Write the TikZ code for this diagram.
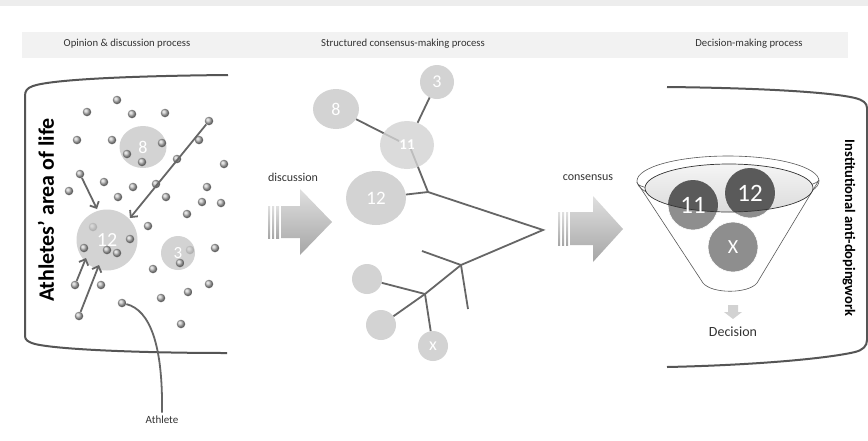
\documentclass[tikz,border=0pt]{standalone}
\usepackage{fontspec}
\setmainfont{Carlito}
\usetikzlibrary{arrows.meta,shapes.geometric}
\definecolor{bub}{HTML}{D3D3D3}
\definecolor{ln}{HTML}{666666}
\definecolor{txt}{HTML}{333333}
\definecolor{dk}{HTML}{5A5A5A}
\definecolor{md}{HTML}{8E8E8E}
\definecolor{frame}{HTML}{555555}
\begin{document}
\begin{tikzpicture}[x=1pt,y=-1pt,
  dot/.style={circle,inner sep=0pt,minimum size=8.5pt,shading=ball,ball color=gray!55},
  bubble/.style={circle,inner sep=0pt,fill=bub,text=white,font=\fontsize{18}{18}\selectfont},
  ebubble/.style={ellipse,inner sep=0pt,fill=bub,text=white,font=\fontsize{18}{18}\selectfont},
  conn/.style={draw=ln,line width=1.8pt},
  arr/.style={draw=ln,line width=1.8pt,-{Straight Barb[length=5pt,width=10pt]}},
  brack/.style={draw=frame,line width=2pt},
  head/.style={font=\fontsize{10.7}{12}\selectfont,text=txt},
  lbl/.style={font=\fontsize{12}{14}\selectfont,text=txt},
  fcirc/.style={circle,inner sep=0pt,minimum size=50pt,fill=md,draw=white,line width=0.6pt},
  blockshade/.style={shading=axis,top color=gray!25,bottom color=gray!70}]
\useasboundingbox (0,0) rectangle (868,440);
\fill[white] (0,0) rectangle (868,440);
% top strip and header band
\fill[gray!14] (0,0) rectangle (868,6);
\fill[gray!10] (22,32) rectangle (848,58);
\node[head] (h1) at (127,44) {Opinion \& discussion process};
\node[head] (h2) at (403,44) {Structured consensus-making process};
\node[head] (h3) at (749,44) {Decision-making process};

% left bracket
\draw[brack] (228,75) .. controls (120,76) and (50,80) .. (33,86) .. controls (27,88) and (25,91) .. (25,96) -- (25,336) .. controls (25,340) and (28,342) .. (35,344) .. controls (60,350) and (150,353) .. (227,353);
\node[rotate=90,font=\bfseries\fontsize{22}{22}\selectfont,text=black] (life) at (46,210) {Athletes' area of life};

% left bubbles
\node[ebubble,minimum width=47pt,minimum height=42pt] (l8) at (143,147) {8};
\node[bubble,minimum size=61pt,font=\fontsize{20}{20}\selectfont] (l12) at (107,240) {12};
\node[bubble,minimum size=34pt,font=\fontsize{17}{17}\selectfont] (l3) at (178,253) {3};
\node[dot,opacity=0.3] (f1) at (93,227) {};
\node[dot,opacity=0.3] (f2) at (190,250) {};
\foreach \p [count=\i] in {{117,100},{87,112},{132,114},{165,113},{77,140},{112,140},{162,143},{199,140},{127,154},{142,162},{177,159},{224,164},{104,182},{69,191},{133,187},{156,184},{118,197},{166,197},{207,187},{202,202},{221,203},{187,214},{148,226},{130,239},{84,248},{107,250},{117,253},{215,248},{153,269},{180,263},{101,285},{209,284},{188,292},{161,298},{181,324}}
  \node[dot] (d\i) at (\p) {};
\node[dot] (sA) at (209,121) {};
\node[dot] (sB) at (80,174) {};
\node[dot] (sC) at (75,285) {};
\node[dot] (sD) at (79,316) {};
\node[dot] (sE) at (122,303) {};
\coordinate (tA) at (130,218);
\coordinate (tB) at (97,209);
\coordinate (tC) at (86,258);
\coordinate (tD) at (99,265);
\draw[arr] (sA) -- (tA);
\draw[arr] (sB) -- (tB);
\draw[arr] (sC) -- (tC);
\draw[arr] (sD) -- (tD);
\node[font=\fontsize{11}{12}\selectfont,text=txt] (athl) at (162,420) {Athlete};
\draw[conn] (sE) .. controls (150,310) and (163,345) .. (athl.north);

% discussion arrow
\node[lbl] (disc) at (293,177) {discussion};
\path[blockshade] (281,206) -- (300,206) -- (300,189) -- (332,222) -- (300,255) -- (300,238) -- (281,238) -- cycle;
\path[blockshade] (268,206) rectangle (270,238);
\path[blockshade] (272,206) rectangle (274,238);
\path[blockshade] (276,206) rectangle (279,238);

% tree
\node[bubble,minimum size=34pt] (t3) at (437,82) {3};
\node[ebubble,minimum width=46pt,minimum height=40pt] (t8) at (336,109) {8};
\node[ebubble,minimum width=60pt,minimum height=54pt,font=\fontsize{19}{19}\selectfont] (t12) at (376,198) {12};
\node[bubble,minimum size=30pt] (te1) at (367,279) {};
\node[bubble,minimum size=30pt] (te2) at (381,325) {};
\node[bubble,minimum size=30pt] (tx) at (433,346) {x};
\coordinate (c11a) at (399,141);
\coordinate (c11b) at (410,147);
\coordinate (j1) at (428,192);
\coordinate (apex) at (543,230);
\coordinate (j2) at (461,265);
\coordinate (j3) at (425,294);
\coordinate (b1) at (422,251);
\coordinate (b2) at (468,309);
\draw[conn] (t8) -- (c11a);
\draw[conn] (c11b) -- (j1);
\node[ebubble,minimum width=54pt,minimum height=48pt,fill opacity=0.8,text opacity=1,font=\bfseries\fontsize{15}{15}\selectfont] (t11) at (407,145) {11};
\draw[conn] (t3) -- (t11);
\draw[conn] (t12) -- (j1) -- (apex) -- (j2) -- (j3);
\draw[conn] (b1) -- (j2) -- (b2);
\draw[conn] (te1) -- (j3);
\draw[conn] (te2) -- (j3);
\draw[conn] (tx) -- (j3);

% consensus arrow
\node[lbl] (cons) at (588,178) {consensus};
\path[blockshade] (570,212) -- (593,212) -- (593,196) -- (623,229) -- (593,262) -- (593,245) -- (570,245) -- cycle;
\path[blockshade] (558,212) rectangle (560,245);
\path[blockshade] (562,212) rectangle (564,245);
\path[blockshade] (566,212) rectangle (568,245);

% right bracket
\draw[brack] (667,87) .. controls (760,88) and (830,92) .. (855,98) .. controls (863,100) and (867,103) .. (867,108) -- (867,340) .. controls (867,346) and (863,350) .. (855,352) .. controls (830,358) and (760,365) .. (667,367);
\node[rotate=-90,font=\bfseries\fontsize{14.5}{15}\selectfont,text=black] (inst) at (849,228) {Institutional anti-dopingwork};

% funnel
\draw[gray!70!black,line width=0.6pt,fill=white] (638,184) -- (703,283) .. controls (712,294) and (748,294) .. (757,283) -- (819,180) .. controls (810,196) and (646,196) .. cycle;
\draw[gray!70!black,line width=0.6pt] (728,181) ellipse [x radius=91, y radius=25];
\path[shading=axis,top color=gray!8,bottom color=gray!28] (729,188) ellipse [x radius=84, y radius=24];
\node[fcirc] (f11) at (693,205) {};
\node[fcirc] (f12) at (750,193) {};
\node[fcirc] (fx) at (733,247) {};
\begin{scope}
  \clip (729,188) ellipse [x radius=84, y radius=24];
  \fill[dk] (f11.center) circle [radius=25];
  \fill[dk] (f12.center) circle [radius=25];
\end{scope}
\draw[gray!40!black,line width=0.7pt] (729,188) ellipse [x radius=84, y radius=24];
\node[text=white,font=\fontsize{25}{25}\selectfont] (n11) at (f11.center) {11};
\node[text=white,font=\fontsize{25}{25}\selectfont] (n12) at (f12.center) {12};
\node[text=white,font=\fontsize{20}{20}\selectfont] (nx) at (fx.center) {X};
\fill[gray!35] (728,305) -- (738,305) -- (738,312) -- (742,312) -- (733,319) -- (724,312) -- (728,312) -- cycle;
\node[font=\fontsize{14}{16}\selectfont,text=txt] (dec) at (733,332) {Decision};
\end{tikzpicture}
\end{document}
